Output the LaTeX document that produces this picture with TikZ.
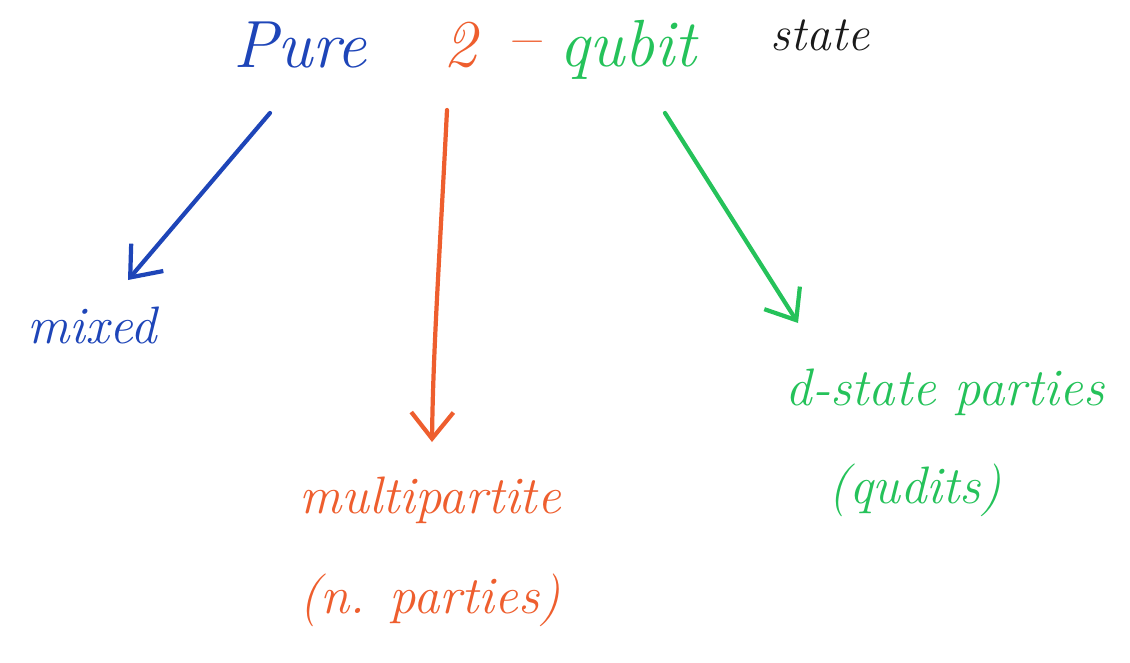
\documentclass[tikz,border=0pt]{standalone}
\usetikzlibrary{arrows.meta}
\definecolor{penblue}{HTML}{1E45B8}
\definecolor{penorange}{HTML}{EE5E2E}
\definecolor{pengreen}{HTML}{25C25A}
\definecolor{penblack}{HTML}{1A1A1A}
\tikzset{
  lbl/.style={inner sep=0pt, font=\itshape\fontsize{30}{34}\selectfont},
  title/.style={inner sep=0pt, font=\itshape\fontsize{38}{42}\selectfont},
  pen/.style={line width=2.4pt, line cap=round, line join=round,
    -{Straight Barb[length=15pt,width=24pt,line width=2.4pt]}}
}
\begin{document}
\begin{tikzpicture}[x=0.02cm,y=-0.02cm]
\useasboundingbox (0,0) rectangle (1130,663);
% title
\node[title, text=penblue] (pure) at (300,45) {Pure};
\node[title, text=penorange] (two) at (460,45) {2};
\node[title, text=penorange] (dash) at (523,50) {--};
\node[title, text=pengreen] (qubit) at (628,50) {qubit};
\node[lbl, text=penblack, font=\itshape\fontsize{28}{32}\selectfont] (state) at (820,35) {state};
% targets
\node[lbl, text=penblue] (mixed) at (92,325) {mixed};
\node[lbl, text=penorange] (multi) at (430,500) {multipartite};
\node[lbl, text=penorange] (nparties) at (430,600) {(n. parties)};
\node[lbl, text=pengreen] (dstate) at (945,392) {d-state parties};
\node[lbl, text=pengreen] (qudits) at (915,490) {(qudits)};
% arrow end points
\coordinate (b0) at (270,113);
\coordinate (b1) at (128,280);
\coordinate (o0) at (447,110);
\coordinate (o1) at (432,442);
\coordinate (g0) at (665,113);
\coordinate (g1) at (798,323);
\draw[pen, penblue] (b0) -- (b1);
\draw[pen, penorange] (o0) .. controls (440,250) and (433,350) .. (o1);
\draw[pen, pengreen] (g0) -- (g1);
\end{tikzpicture}
\end{document}
